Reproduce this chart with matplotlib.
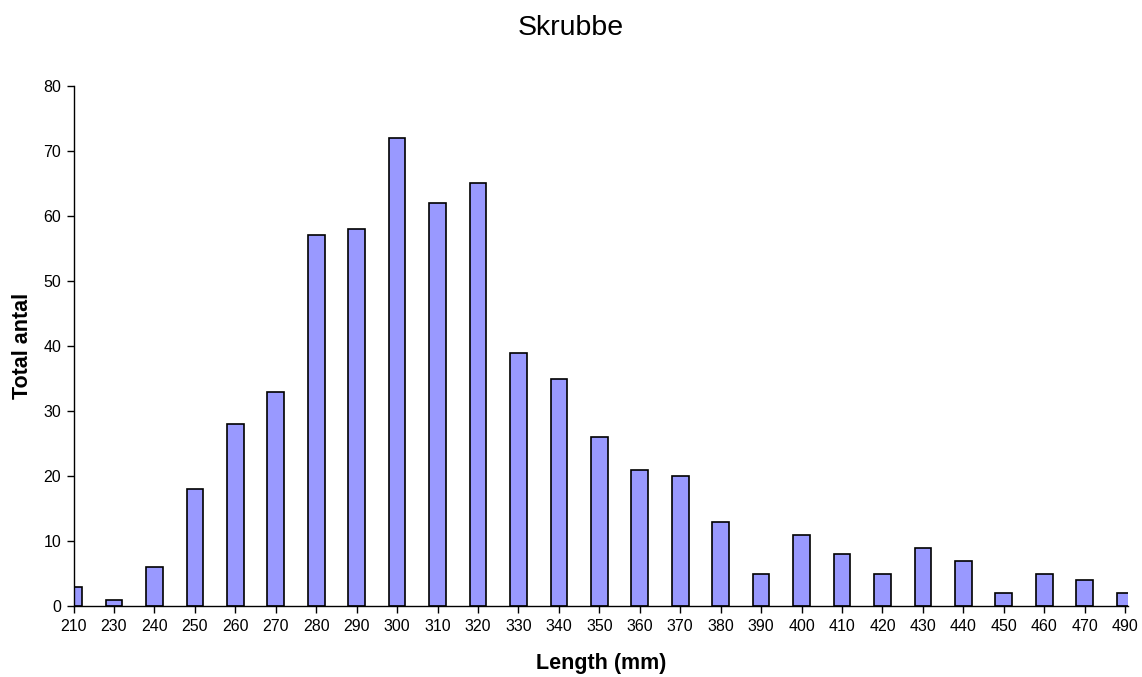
import numpy as np
import matplotlib
matplotlib.use("Agg")
import matplotlib.pyplot as plt

plt.rcParams['font.family'] = ['Liberation Sans', 'DejaVu Sans']

# length classes (mm) and counts
lengths = ['210', '230', '240', '250', '260', '270', '280', '290', '300', '310',
           '320', '330', '340', '350', '360', '370', '380', '390', '400', '410',
           '420', '430', '440', '450', '460', '470', '490']
counts = [3, 1, 6, 18, 28, 33, 57, 58, 72, 62,
          65, 39, 35, 26, 21, 20, 13, 5, 11, 8,
          5, 9, 7, 2, 5, 4, 2]

fig = plt.figure(figsize=(11.42, 6.77), dpi=100)
ax = fig.add_axes([0.0644, 0.1044, 0.9233, 0.769])

x = np.arange(len(lengths))
ax.bar(x, counts, width=0.41, color='#9999FF', edgecolor='black', linewidth=1.2)

ax.set_xlim(0, len(lengths) - 1 + 0.07)
ax.set_ylim(0, 80)
ax.set_xticks(x)
ax.set_xticklabels(lengths)
ax.set_yticks(np.arange(0, 81, 10))

for s in ['top', 'right']:
    ax.spines[s].set_visible(False)
for s in ['left', 'bottom']:
    ax.spines[s].set_linewidth(1.0)
ax.tick_params(axis='both', direction='out', length=5, width=1.0, labelsize=11.5, pad=4)

ax.set_xlabel('Length (mm)', fontsize=15.5, fontweight='bold', labelpad=14)
ax.set_ylabel('Total antal', fontsize=15.5, fontweight='bold', labelpad=7)
fig.suptitle('Skrubbe', fontsize=20.5, y=0.978)

fig.savefig('out.png', dpi=100)
